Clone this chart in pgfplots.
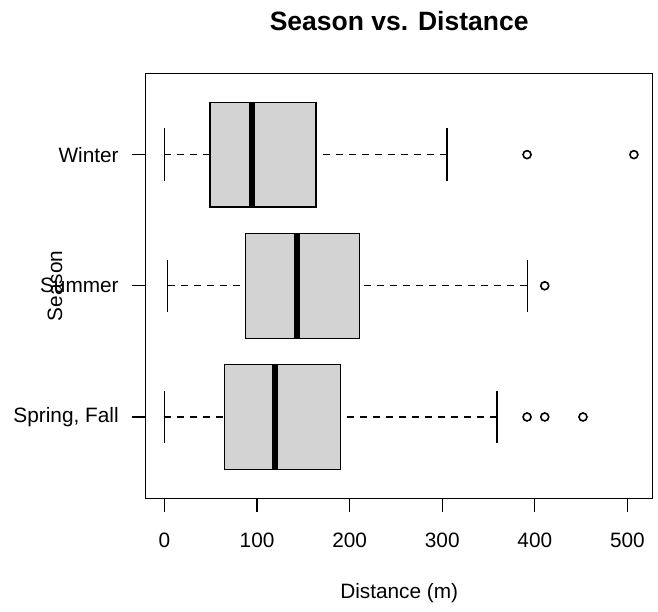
\documentclass[border=0pt]{standalone}
\usepackage{pgfplots}
\pgfplotsset{compat=1.18}
\usepgfplotslibrary{statistics}
\usepackage{fontspec}
\setmainfont{Liberation Sans}
\definecolor{boxgray}{HTML}{D3D3D3}
\begin{document}
\begin{tikzpicture}
\begin{axis}[
  scale only axis,
  width=507bp, height=425bp,
  xmin=-20.3, xmax=527.3,
  ymin=0.38, ymax=3.62,
  axis line style={black, line width=1.2bp},
  xtick={0,100,200,300,400,500},
  ytick={1,2,3},
  yticklabels={{Spring, Fall},Summer,Winter},
  xtick pos=bottom, ytick pos=left,
  tick align=outside,
  major tick length=14bp,
  tick style={black, line width=1.2bp},
  /pgf/number format/assume math mode=true,
  ticklabel style={font=\fontsize{20.8bp}{24bp}\selectfont},
  xticklabel style={yshift=-17bp},
  yticklabel style={xshift=-9.5bp},
  title={\bfseries Season vs. Distance},
  title style={font=\fontsize{26.5bp}{30bp}\selectfont, at={(axis description cs:0.5,1)}, anchor=center, yshift=46bp},
  xlabel={Distance (m)},
  xlabel style={font=\fontsize{20.8bp}{24bp}\selectfont, at={(axis description cs:0.5,0)}, anchor=center, yshift=-95bp},
  ylabel={Season},
  ylabel style={font=\fontsize{20.8bp}{24bp}\selectfont, at={(axis description cs:-0.179,0.5)}, anchor=center, rotate=0},
  boxplot/box extend=0.8,
  boxplot/whisker extend=0.4,
  boxplot/every box/.style={fill=boxgray, draw=black, line width=1.3bp},
  boxplot/every median/.style={black, line width=5.5bp},
  boxplot/every whisker/.style={black, line width=1.3bp, dash pattern=on 7bp off 6bp},
  boxplot/draw/lower whisker/.code={%
    \draw[/pgfplots/boxplot/every whisker/.try]
      (boxplot box cs:\pgfplotsboxplotvalue{lower whisker},0.5)
      -- (boxplot box cs:\pgfplotsboxplotvalue{lower quartile},0.5);
    \draw[black, line width=1.3bp]
      (boxplot whisker cs:\pgfplotsboxplotvalue{lower whisker},0)
      -- (boxplot whisker cs:\pgfplotsboxplotvalue{lower whisker},1);
  },
  boxplot/draw/upper whisker/.code={%
    \draw[/pgfplots/boxplot/every whisker/.try]
      (boxplot box cs:\pgfplotsboxplotvalue{upper whisker},0.5)
      -- (boxplot box cs:\pgfplotsboxplotvalue{upper quartile},0.5);
    \draw[black, line width=1.3bp]
      (boxplot whisker cs:\pgfplotsboxplotvalue{upper whisker},0)
      -- (boxplot whisker cs:\pgfplotsboxplotvalue{upper whisker},1);
  },
]
% Spring, Fall
\addplot+[black, mark=o, mark size=4bp, mark options={black, line width=1.6bp, fill=none},
  boxplot prepared={draw position=1, lower whisker=0, lower quartile=64.7,
    median=119.1, upper quartile=189.9, upper whisker=359}]
  table[row sep=\\, y index=0] {data\\ 391.6\\ 410.7\\ 452\\};
% Summer
\addplot+[black, mark=o, mark size=4bp, mark options={black, line width=1.6bp, fill=none},
  boxplot prepared={draw position=2, lower whisker=3.6, lower quartile=87.4,
    median=143.2, upper quartile=210.8, upper whisker=392}]
  table[row sep=\\, y index=0] {data\\ 410.7\\};
% Winter
\addplot+[black, mark=o, mark size=4bp, mark options={black, line width=1.6bp, fill=none},
  boxplot prepared={draw position=3, lower whisker=0, lower quartile=49,
    median=94.6, upper quartile=163.6, upper whisker=305}]
  table[row sep=\\, y index=0] {data\\ 391.6\\ 507\\};
\coordinate (ll) at (rel axis cs:0,0);
\end{axis}
\path (ll) ++(-145.7bp,-113.7bp) rectangle ++(658bp,612bp);
\end{tikzpicture}
\end{document}
